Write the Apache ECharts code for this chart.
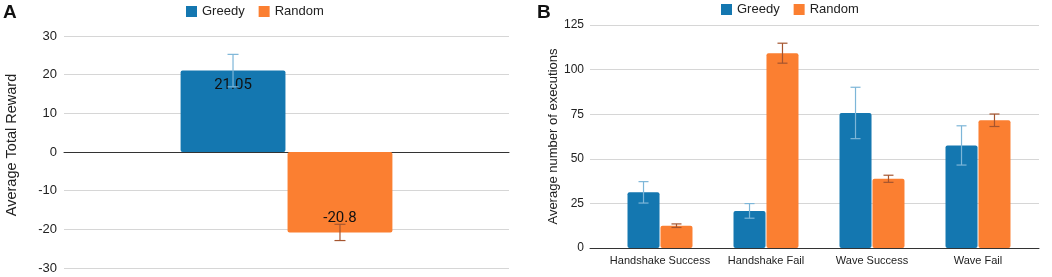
<!DOCTYPE html>
<html>
<head>
<meta charset="utf-8">
<style>
  html, body { margin: 0; padding: 0; background: #fff; }
  #chart { width: 1052px; height: 277px; }
</style>
<script src="https://cdn.jsdelivr.net/npm/echarts@6/dist/echarts.min.js"></script>
</head>
<body>
<div id="chart"></div>
<script>
// panel A: average total reward
const rewardCats = ['']
const rewardGreedy = [21.05]
const rewardRandom = [-20.8]
const rewardGreedyErr = [4.2]
const rewardRandomErr = [2.1]
const rewardTicks = [-30, -20, -10, 0, 10, 20, 30]

// panel B: average number of executions
const execCats = ['Handshake Success', 'Handshake Fail', 'Wave Success', 'Wave Fail']
const execGreedy = [31.2, 20.8, 75.7, 57.5]
const execRandom = [12.5, 109.2, 38.8, 71.6]
const execGreedyErr = [6, 4.1, 14.4, 11]
const execRandomErr = [1, 5.6, 2, 3.5]
const execTicks = [0, 25, 50, 75, 100, 125]

const GREEDY = '#1477b0'
const RANDOM = '#fb7f31'
const GREEDY_ERR = '#7db6d8'
const RANDOM_ERR = '#a5552f'
const FONT = 'Liberation Sans, Arial, sans-serif'

// error bar rows: [category index, low, high, series slot]
function errRows(means, errs, slot) {
  return means.map((m, i) => [i, m - errs[i], m + errs[i], slot])
}

function errorBars(catGap, barGap, cap) {
  return function (params, api) {
    const cat = api.value(0)
    const lo = api.value(1)
    const hi = api.value(2)
    const slot = api.value(3)
    const band = api.size([1, 0])[0]
    const used = band * (1 - catGap)
    const bw = used / (2 + barGap)
    const x = api.coord([cat, 0])[0] - used / 2 + slot * bw * (1 + barGap) + bw / 2
    const yHi = api.coord([cat, hi])[1]
    const yLo = api.coord([cat, lo])[1]
    const style = { stroke: slot === 0 ? GREEDY_ERR : RANDOM_ERR, lineWidth: 1.2 }
    return {
      type: 'group',
      children: [
        { type: 'line', shape: { x1: x, y1: yHi, x2: x, y2: yLo }, style },
        { type: 'line', shape: { x1: x - cap, y1: yHi, x2: x + cap, y2: yHi }, style },
        { type: 'line', shape: { x1: x - cap, y1: yLo, x2: x + cap, y2: yLo }, style }
      ]
    }
  }
}

const chart = echarts.init(document.getElementById('chart'))

const split = { lineStyle: { color: '#d6d6d6', width: 1 } }
const execMin = execTicks[0]
const execMax = execTicks[execTicks.length - 1]

chart.setOption({
  animation: false,
  textStyle: { fontFamily: FONT },
  title: [
    { text: 'A', left: -2, top: -2, textStyle: { fontSize: 19, fontWeight: 'bold', color: '#111', fontFamily: FONT } },
    { text: 'B', left: 532, top: -2, textStyle: { fontSize: 19, fontWeight: 'bold', color: '#111', fontFamily: FONT } }
  ],
  legend: [
    {
      data: ['Greedy', 'Random'], left: 181, top: 0, itemWidth: 11, itemHeight: 11, itemGap: 14,
      icon: 'rect', textStyle: { fontSize: 13, color: '#222', fontFamily: FONT }
    },
    {
      data: ['Greedy', 'Random'], left: 716, top: -2, itemWidth: 11, itemHeight: 11, itemGap: 14,
      icon: 'rect', textStyle: { fontSize: 13, color: '#222', fontFamily: FONT }
    }
  ],
  grid: [
    { left: 64, right: 543, top: 36, bottom: 9 },
    // B: gridlines and axis frame
    { left: 590, right: 13, top: 25, bottom: 29 },
    // B: bars sit a little inside the gridlines
    { left: 607, right: 21, top: 25, bottom: 29 }
  ],
  xAxis: [
    {
      gridIndex: 0, type: 'category', data: rewardCats,
      axisLine: { lineStyle: { color: '#333', width: 1 } },
      axisTick: { show: false }, axisLabel: { show: false }
    },
    {
      gridIndex: 1, type: 'category', data: [''],
      axisLine: { lineStyle: { color: '#333', width: 1 } },
      axisTick: { show: false }, axisLabel: { show: false }
    },
    {
      gridIndex: 2, type: 'category', data: execCats,
      axisLine: { show: false }, axisTick: { show: false },
      axisLabel: { interval: 0, color: '#222', fontSize: 11, margin: 7, fontFamily: FONT }
    }
  ],
  yAxis: [
    {
      gridIndex: 0, type: 'value',
      min: rewardTicks[0], max: rewardTicks[rewardTicks.length - 1], interval: 10,
      name: 'Average Total Reward', nameLocation: 'middle', nameGap: 45,
      nameTextStyle: { fontSize: 14.5, color: '#222', fontFamily: FONT, padding: [0, 0, 0, 14] },
      axisLine: { show: false }, axisTick: { show: false },
      axisLabel: { color: '#222', fontSize: 13, margin: 7, fontFamily: FONT },
      splitLine: split
    },
    {
      gridIndex: 1, type: 'value', min: execMin, max: execMax, interval: 25,
      name: 'Average number of executions', nameLocation: 'middle', nameGap: 29,
      nameTextStyle: { fontSize: 13, color: '#222', fontFamily: FONT },
      axisLine: { show: false }, axisTick: { show: false },
      axisLabel: { color: '#222', fontSize: 12, margin: 6, fontFamily: FONT },
      splitLine: split
    },
    {
      gridIndex: 2, type: 'value', min: execMin, max: execMax, interval: 25,
      axisLine: { show: false }, axisTick: { show: false },
      axisLabel: { show: false }, splitLine: { show: false }
    }
  ],
  series: [
    {
      name: 'Greedy', type: 'bar', xAxisIndex: 0, yAxisIndex: 0,
      data: rewardGreedy, barCategoryGap: '52.4%', barGap: '2%',
      itemStyle: { color: GREEDY, borderRadius: 2 },
      label: { show: true, position: 'insideTop', distance: 7, fontSize: 15, color: '#111', fontFamily: 'Roboto' }
    },
    {
      name: 'Random', type: 'bar', xAxisIndex: 0, yAxisIndex: 0,
      data: rewardRandom, barCategoryGap: '52.4%', barGap: '2%',
      itemStyle: { color: RANDOM, borderRadius: 2 },
      label: { show: true, position: 'insideBottom', distance: 7, fontSize: 15, color: '#111', fontFamily: 'Roboto' }
    },
    {
      type: 'custom', xAxisIndex: 0, yAxisIndex: 0, z: 3,
      renderItem: errorBars(0.524, 0.02, 5.5),
      data: errRows(rewardGreedy, rewardGreedyErr, 0).concat(errRows(rewardRandom, rewardRandomErr, 1))
    },
    {
      name: 'Greedy', type: 'bar', xAxisIndex: 2, yAxisIndex: 2,
      data: execGreedy, barCategoryGap: '38.7%', barGap: '3%',
      itemStyle: { color: GREEDY, borderRadius: 2 }
    },
    {
      name: 'Random', type: 'bar', xAxisIndex: 2, yAxisIndex: 2,
      data: execRandom, barCategoryGap: '38.7%', barGap: '3%',
      itemStyle: { color: RANDOM, borderRadius: 2 }
    },
    {
      type: 'custom', xAxisIndex: 2, yAxisIndex: 2, z: 3,
      renderItem: errorBars(0.387, 0.03, 5),
      data: errRows(execGreedy, execGreedyErr, 0).concat(errRows(execRandom, execRandomErr, 1))
    }
  ]
})
</script>
</body>
</html>
